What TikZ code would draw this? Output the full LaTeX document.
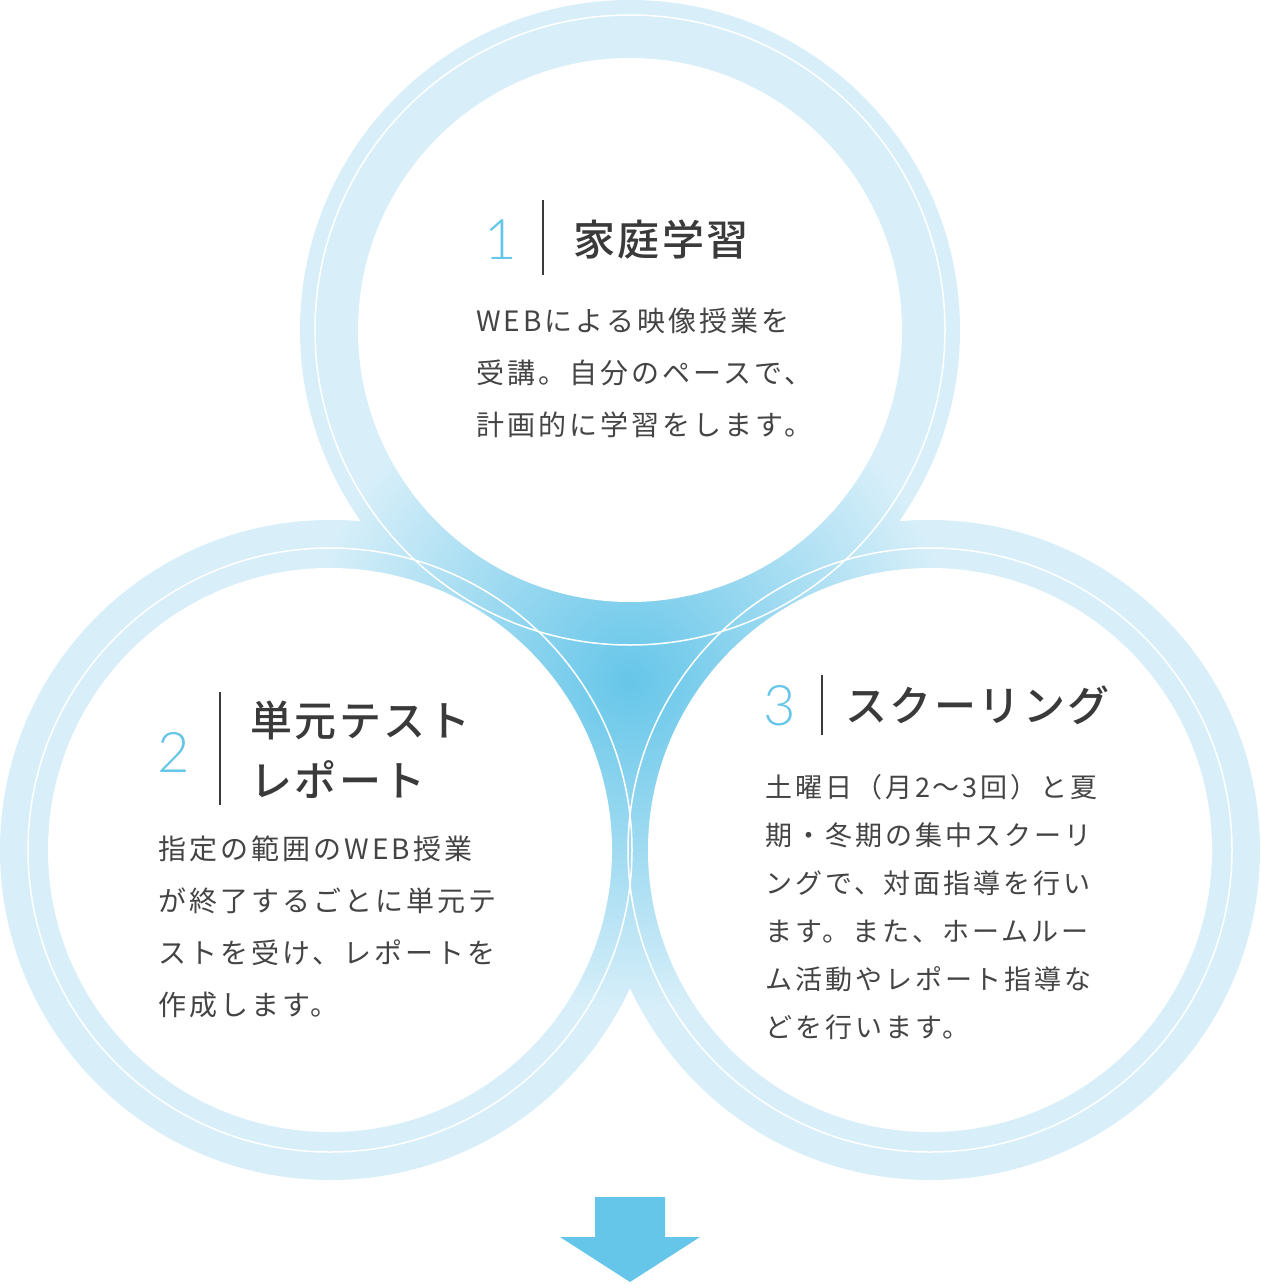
\documentclass[tikz,border=0pt]{standalone}
\usepackage{fontspec}
\setmainfont{Noto Sans CJK JP}
\newfontfamily\jpbody[LetterSpace=11]{Noto Sans CJK JP}
\newfontfamily\jptitle[LetterSpace=6]{Noto Sans CJK JP Medium}
\newfontfamily\numfont{Lato Light}
\definecolor{ringblue}{HTML}{D8EFF9}
\definecolor{deepblue}{HTML}{66C6E9}
\definecolor{titlegray}{HTML}{3A3A3A}
\definecolor{bodygray}{HTML}{444444}
\tikzset{
  num/.style={anchor=west, inner sep=0pt, text=deepblue, font=\numfont\fontsize{56}{56}\selectfont},
  title/.style={anchor=west, inner sep=0pt, text=titlegray, align=left, font=\jptitle\fontsize{42}{60}\selectfont},
  body/.style={anchor=north west, inner sep=0pt, text=bodygray, align=left},
  sepbar/.style={draw=titlegray, line width=1.5pt}
}
\begin{document}
\begin{tikzpicture}[x=1pt,y=-1pt]
\useasboundingbox (0,0) rectangle (1260,1284);
% outer rings
\fill[ringblue] (630,330) circle (330) (330,850) circle (330) (930,850) circle (330);
\fill[ringblue] (630,330) -- (330,850) -- (930,850) -- cycle;
\begin{scope}
  \clip (630,330) circle (330) (330,850) circle (330) (930,850) circle (330);
  \shade[inner color=deepblue, outer color=ringblue] (630,680) circle (330);
\end{scope}
\begin{scope}
  \clip (630,330) -- (330,850) -- (930,850) -- cycle;
  \shade[inner color=deepblue, outer color=ringblue] (630,680) circle (330);
\end{scope}
% thin white rings
\draw[white, line width=1.5pt] (630,330) circle (315) (330,850) circle (302) (930,850) circle (302);
% inner discs
\fill[white] (630,330) circle (272) (330,850) circle (282) (930,850) circle (282);
% arrow
\fill[deepblue] (595,1197) -- (665,1197) -- (665,1237) -- (700,1237) -- (630,1282) -- (560,1237) -- (595,1237) -- cycle;

% circle 1
\node[num] (n1) at (484,240) {1};
\draw[sepbar] (543,200) -- (543,275);
\node[title] (t1) at (573,240) {家庭学習};
\node[body, font=\jpbody\fontsize{28}{52}\selectfont] (b1) at (476,308) {WEBによる映像授業を\\受講。自分のペースで、\\計画的に学習をします。};

% circle 2
\node[num] (n2) at (157,752) {2};
\draw[sepbar] (220,692) -- (220,805);
\node[title] (t2) at (250,750) {単元テスト\\レポート};
\node[body, font=\jpbody\fontsize{28}{52}\selectfont] (b2) at (158,836) {指定の範囲のWEB授業\\が終了するごとに単元テ\\ストを受け、レポートを\\作成します。};

% circle 3
\node[num] (n3) at (763,706) {3};
\draw[sepbar] (822,675) -- (822,735);
\node[title] (t3) at (845,705) {スクーリング};
\node[body, font=\jpbody\fontsize{27}{48}\selectfont] (b3) at (765,774) {土曜日（月2〜3回）と夏\\期・冬期の集中スクーリ\\ングで、対面指導を行い\\ます。また、ホームルー\\ム活動やレポート指導な\\どを行います。};
\end{tikzpicture}
\end{document}
